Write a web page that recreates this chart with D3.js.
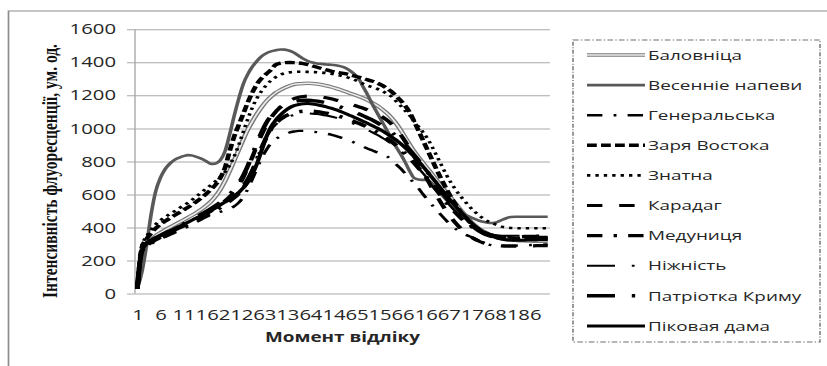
<!DOCTYPE html>
<html><head><meta charset="utf-8">
<script src="https://cdn.jsdelivr.net/npm/d3@7"></script>
<style>body{margin:0;background:#fff;} svg{display:block;}</style>
</head><body>
<svg id="chart" width="827" height="366"></svg>
<script>
// ---------- DATA ----------
const categories = d3.range(1, 91);
const xTickValues = [1, 6, 11, 16, 21, 26, 31, 36, 41, 46, 51, 56, 61, 66, 71, 76, 81, 86];
const yTickValues = [0, 200, 400, 600, 800, 1000, 1200, 1400, 1600];
const seriesNames = ["Баловніца", "Весеннiе напеви", "Генеральська", "Заря Востока", "Знатна",
  "Карадаг", "Медуниця", "Ніжність", "Патріотка Криму", "Піковая дама"];

const balovnitsa = [30,265,305,328,350,368,385,400,415,430,
  445,460,476,493,512,533,558,590,630,680,
  740,805,870,935,995,1045,1090,1130,1165,1192,
  1215,1232,1246,1258,1266,1270,1272,1273,1272,1269,
  1264,1258,1251,1243,1234,1224,1214,1204,1194,1183,
  1170,1155,1138,1118,1095,1068,1035,995,950,905,
  862,825,790,755,720,683,648,614,580,545,
  510,477,445,418,395,377,363,350,340,332,
  327,324,322,320,319,318,317,317,316,316];
const vesenni = [30,130,290,480,620,700,752,785,808,822,
  832,838,835,826,815,800,785,788,808,860,
  960,1075,1180,1270,1330,1375,1410,1437,1455,1466,
  1473,1478,1477,1470,1458,1440,1422,1408,1399,1393,
  1390,1387,1385,1382,1377,1368,1352,1330,1302,1250,
  1200,1145,1095,1045,995,945,895,849,800,745,
  700,690,688,687,665,630,598,568,540,515,
  495,480,466,453,442,434,429,427,432,445,
  456,463,465,465,465,465,465,465,465,465];
const generalska = [30,250,285,300,318,330,342,355,367,380,
  392,405,420,435,450,465,477,487,495,503,
  513,528,550,585,635,695,760,820,870,910,
  935,952,965,975,981,985,985,983,980,977,
  974,968,962,955,946,937,927,915,903,889,
  877,866,855,845,833,812,785,760,730,700,
  668,636,600,565,533,503,472,442,415,392,
  373,358,347,336,322,310,298,292,290,289,
  289,290,290,291,292,293,294,295,296,297];
const zarya = [30,280,330,365,395,418,437,455,472,488,
  505,522,540,560,582,605,630,660,700,760,
  860,950,1020,1090,1160,1220,1270,1305,1330,1355,
  1385,1395,1398,1399,1398,1396,1392,1386,1378,1370,
  1362,1354,1347,1341,1336,1331,1325,1318,1310,1302,
  1294,1285,1275,1262,1245,1225,1200,1172,1140,1100,
  1045,985,925,865,805,745,690,635,585,540,
  500,465,435,410,390,374,362,352,345,340,
  337,335,334,333,333,333,333,333,333,333];
const znatna = [30,290,345,385,420,443,462,480,497,515,
  533,550,570,592,615,636,658,680,705,735,
  775,830,900,980,1060,1130,1185,1228,1262,1290,
  1310,1325,1334,1339,1342,1343,1343,1342,1341,1340,
  1338,1335,1331,1326,1320,1313,1305,1295,1283,1270,
  1258,1250,1240,1228,1212,1195,1168,1140,1110,1080,
  1045,1010,975,935,885,830,775,720,672,630,
  593,560,528,500,475,455,438,425,414,405,
  400,397,396,395,395,395,395,395,395,395];
const karadag = [30,255,290,308,325,340,354,368,382,395,
  408,421,435,450,466,483,500,518,538,560,
  585,615,655,705,765,830,900,965,1020,1065,
  1100,1128,1150,1167,1180,1188,1193,1195,1195,1193,
  1190,1185,1179,1172,1165,1157,1149,1140,1131,1122,
  1112,1100,1087,1072,1053,1030,1000,965,925,880,
  833,785,735,685,635,588,543,500,462,428,
  398,372,350,332,318,307,299,293,290,288,
  287,287,287,288,288,289,289,290,290,290];
const medunytsia = [30,255,292,310,326,340,353,366,379,392,
  405,418,431,445,459,473,488,503,520,538,
  558,580,606,640,685,745,815,885,945,995,
  1030,1055,1073,1086,1095,1101,1104,1105,1104,1101,
  1097,1092,1086,1079,1071,1062,1052,1042,1031,1019,
  1006,992,977,960,942,922,900,876,850,822,
  792,760,727,693,658,622,587,552,520,490,
  462,437,415,396,380,368,358,351,347,345,
  344,344,344,344,345,345,345,345,345,345];
const nizhnist = [30,262,298,316,332,346,360,373,386,399,
  412,425,439,453,468,483,499,515,533,552,
  573,597,625,660,705,760,825,890,945,990,
  1022,1045,1061,1073,1081,1086,1089,1090,1089,1087,
  1083,1078,1072,1065,1057,1048,1038,1027,1015,1003,
  990,976,961,945,928,909,888,866,842,816,
  788,758,727,694,660,626,592,558,527,497,
  470,445,423,404,388,375,365,358,353,350,
  349,349,350,350,351,351,352,352,352,352];
const patriotka = [30,268,305,322,338,352,366,380,394,408,
  422,436,451,466,482,498,515,533,553,575,
  600,630,668,715,775,845,915,980,1035,1075,
  1105,1128,1144,1156,1163,1168,1170,1170,1168,1165,
  1160,1154,1147,1139,1130,1120,1110,1099,1088,1076,
  1063,1050,1035,1018,1000,979,956,930,902,872,
  840,806,770,733,695,656,618,580,545,512,
  480,450,423,400,380,365,353,345,340,338,
  337,337,337,338,338,339,339,340,340,340];
const pikova = [30,260,300,318,335,350,364,378,392,405,
  418,432,446,460,475,490,505,520,537,553,
  570,590,612,640,675,725,790,870,950,1010,
  1050,1080,1105,1125,1138,1145,1149,1150,1148,1143,
  1137,1130,1122,1113,1103,1092,1080,1068,1055,1042,
  1030,1016,1002,987,970,952,932,910,885,858,
  830,800,768,734,700,665,630,595,562,530,
  498,468,440,414,392,373,357,345,336,330,
  326,324,323,323,323,324,324,325,325,325];

const seriesValues = [balovnitsa, vesenni, generalska, zarya, znatna, karadag, medunytsia, nizhnist, patriotka, pikova];

// ---------- STYLES ----------
const styles = [
  {stroke:"#7a7a7a", width:3.6, dash:null, inner:"#ececec", innerWidth:1.4},
  {stroke:"#595959", width:2.6, dash:null},
  {stroke:"#000", width:2.4, dash:"11,8,2,8"},
  {stroke:"#000", width:3.4, dash:"7,3"},
  {stroke:"#000", width:2.6, dash:"2.4,3.6"},
  {stroke:"#000", width:3.2, dash:"11,12"},
  {stroke:"#000", width:3.4, dash:"11,8,2.4,8"},
  {stroke:"#000", width:2.0, dash:"20,12,2,12"},
  {stroke:"#000", width:3.4, dash:"20,12,2.4,12"},
  {stroke:"#000", width:3.0, dash:null}
];

// ---------- LAYOUT (source image is horizontally stretched) ----------
const SX = 1.4;
const X = v => v / SX;
const svg = d3.select("#chart");
const root = svg.append("g").attr("transform", `scale(${SX},1)`);
const font = "'Open Sans', 'Liberation Sans', sans-serif";
const textColor = "#262626";

// outer frame
root.append("path")
  .attr("d", `M${X(8.5)},366 V11 H${X(827)}`)
  .attr("fill", "none").attr("stroke", "#8c8c8c").attr("stroke-width", 1.2);

const P = {left:135, right:550, top:29.3, bottom:293.5};
const x = d3.scalePoint().domain(categories).range([X(P.left), X(P.right)]).padding(0.5);
const y = d3.scaleLinear().domain([0, 1600]).range([P.bottom, P.top]);

// y axis with gridlines
const yAxis = root.append("g").attr("transform", `translate(${X(P.right)},0)`)
  .call(d3.axisLeft(y).tickValues(yTickValues).tickFormat(d3.format("d"))
    .tickSize(X(P.right) - X(127)).tickPadding(X(127) - X(116)));
yAxis.select(".domain").remove();
yAxis.selectAll(".tick line").attr("stroke", "#a9a9a9").attr("stroke-width", 1);
yAxis.selectAll(".tick text").attr("font-family", font).attr("font-size", 14.5).attr("fill", textColor);

// y axis line
root.append("line").attr("x1", X(P.left)).attr("x2", X(P.left)).attr("y1", y(1600)).attr("y2", y(0))
  .attr("stroke", "#a9a9a9").attr("stroke-width", 1);

// x axis
const xAxis = root.append("g").attr("transform", `translate(0,${P.bottom})`)
  .call(d3.axisBottom(x).tickValues(xTickValues).tickFormat(d3.format("d")).tickSize(0).tickPadding(16));
xAxis.select(".domain").remove();
xAxis.selectAll(".tick text").attr("font-family", font).attr("font-size", 14.5).attr("fill", textColor);

// axis titles
root.append("text").attr("x", X(342.5)).attr("y", 342).attr("text-anchor", "middle")
  .attr("font-family", font).attr("font-size", 13.5).attr("font-weight", "bold").attr("fill", textColor)
  .text("Момент відліку");
root.append("text").attr("transform", `translate(${X(57)},171) rotate(-90)`).attr("text-anchor", "middle")
  .attr("font-family", "'Liberation Serif', 'Times New Roman', serif").attr("font-size", 15.5)
  .attr("font-weight", "bold").attr("fill", "#111")
  .text("Інтенсивність флуоресценції, ум. од.");

// lines
const line = d3.line().x((d, i) => x(categories[i])).y(d => y(d)).curve(d3.curveMonotoneX);
const lines = root.append("g");
seriesValues.forEach((vals, k) => {
  const s = styles[k];
  lines.append("path").attr("d", line(vals)).attr("fill", "none")
    .attr("stroke", s.stroke).attr("stroke-width", s.width)
    .attr("stroke-dasharray", s.dash).attr("stroke-linejoin", "round");
  if (s.inner) {
    lines.append("path").attr("d", line(vals)).attr("fill", "none")
      .attr("stroke", s.inner).attr("stroke-width", s.innerWidth).attr("stroke-linejoin", "round");
  }
});

// legend
const L = {left:573, right:820, top:40, bottom:342};
root.append("rect").attr("x", X(L.left)).attr("y", L.top)
  .attr("width", X(L.right) - X(L.left)).attr("height", L.bottom - L.top)
  .attr("fill", "none").attr("stroke", "#6e6e6e").attr("stroke-width", 1)
  .attr("stroke-dasharray", "4,1.6,1,1.6");
const leg = root.append("g");
seriesNames.forEach((name, k) => {
  const s = styles[k];
  const yy = 55 + k * 30.1;
  leg.append("line").attr("x1", X(587)).attr("x2", X(645)).attr("y1", yy).attr("y2", yy)
    .attr("stroke", s.stroke).attr("stroke-width", s.width).attr("stroke-dasharray", s.dash);
  if (s.inner) {
    leg.append("line").attr("x1", X(587)).attr("x2", X(645)).attr("y1", yy).attr("y2", yy)
      .attr("stroke", s.inner).attr("stroke-width", s.innerWidth);
  }
  leg.append("text").attr("x", X(648)).attr("y", yy).attr("dy", "0.35em")
    .attr("font-family", font).attr("font-size", 13.5).attr("fill", textColor).text(name);
});
</script>
</body></html>
